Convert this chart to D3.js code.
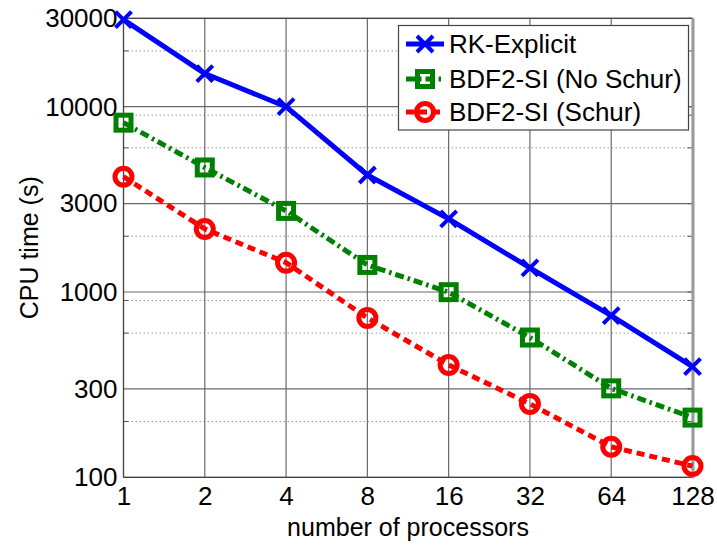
<!DOCTYPE html>
<html>
<head>
<meta charset="utf-8">
<script src="https://cdn.jsdelivr.net/npm/d3@7"></script>
<style>
  html, body { margin: 0; padding: 0; background: #fff; }
  svg { display: block; font-family: "Liberation Sans", Arial, Helvetica, sans-serif; }
</style>
</head>
<body>
<svg id="chart" width="717" height="545"></svg>
<script>
const processors = [1, 2, 4, 8, 16, 32, 64, 128];
const rkExplicit = [29500, 15100, 10000, 4280, 2480, 1350, 745, 396];
const bdfNoSchur = [8200, 4700, 2740, 1400, 998, 568, 302, 210];
const bdfSchur   = [4190, 2190, 1440, 725, 404, 249, 146, 115];
const seriesNames = ["RK-Explicit", "BDF2-SI (No Schur)", "BDF2-SI (Schur)"];
const yTicks = [100, 300, 1000, 3000, 10000, 30000];
const yMinor = [200, 600, 900, 2000, 6000, 9000, 20000];
const xTitle = "number of processors";
const yTitle = "CPU time (s)";

const svg = d3.select("#chart");
const pL = 123.5, pR = 692.5, pT = 18.3, pB = 477.3;

const x = d3.scaleLog().base(2).domain([1, 128]).range([pL, pR]);
const y = d3.scaleLog().base(10).domain([100, 30000]).range([pB, pT]);

// minor grid (dotted)
svg.append("g").selectAll("line").data(yMinor).join("line")
  .attr("x1", pL).attr("x2", pR)
  .attr("y1", d => y(d)).attr("y2", d => y(d))
  .attr("stroke", "#9a9a9a").attr("stroke-width", 1).attr("stroke-dasharray", "1.5,2.5");

// major grid
svg.append("g").selectAll("line").data(yTicks).join("line")
  .attr("x1", pL).attr("x2", pR)
  .attr("y1", d => y(d)).attr("y2", d => y(d))
  .attr("stroke", "#6a6a6a").attr("stroke-width", 1.2);
svg.append("g").selectAll("line").data(processors).join("line")
  .attr("x1", d => x(d)).attr("x2", d => x(d))
  .attr("y1", pT).attr("y2", pB)
  .attr("stroke", "#6a6a6a").attr("stroke-width", 1.2);

// minor tick marks on left/right
svg.append("g").selectAll("line").data(yMinor).join("line")
  .attr("x1", pL).attr("x2", pL + 5)
  .attr("y1", d => y(d)).attr("y2", d => y(d))
  .attr("stroke", "#555").attr("stroke-width", 1);
svg.append("g").selectAll("line").data(yMinor.concat(yTicks)).join("line")
  .attr("x1", pR - 5).attr("x2", pR)
  .attr("y1", d => y(d)).attr("y2", d => y(d))
  .attr("stroke", "#555").attr("stroke-width", 1);

// box
svg.append("line").attr("x1", pL).attr("x2", pR).attr("y1", pT).attr("y2", pT)
  .attr("stroke", "#444").attr("stroke-width", 1.2);
svg.append("line").attr("x1", pL).attr("x2", pR).attr("y1", pB).attr("y2", pB)
  .attr("stroke", "#444").attr("stroke-width", 1.2);
svg.append("line").attr("x1", pL).attr("x2", pL).attr("y1", pT).attr("y2", pB)
  .attr("stroke", "#444").attr("stroke-width", 1.2);
svg.append("line").attr("x1", pR + 0.5).attr("x2", pR + 0.5).attr("y1", pT).attr("y2", pB + 1)
  .attr("stroke", "#9a9a9a").attr("stroke-width", 3);

// axes labels via d3 axes
const yAxis = d3.axisLeft(y).tickValues(yTicks).tickFormat(d3.format("d")).tickSize(0).tickPadding(6);
const gy = svg.append("g").attr("transform", `translate(${pL},0)`).call(yAxis);
gy.select(".domain").remove();
gy.selectAll("text").attr("font-size", 26).attr("fill", "#000")
  .attr("font-family", "Liberation Sans, Arial, sans-serif");

const xAxis = d3.axisBottom(x).tickValues(processors).tickFormat(d3.format("d")).tickSize(0).tickPadding(9);
const gx = svg.append("g").attr("transform", `translate(0,${pB})`).call(xAxis);
gx.select(".domain").remove();
gx.selectAll("text").attr("font-size", 26).attr("fill", "#000")
  .attr("font-family", "Liberation Sans, Arial, sans-serif");

// titles
svg.append("text").attr("x", (pL + pR) / 2).attr("y", 536)
  .attr("text-anchor", "middle").attr("font-size", 25).text(xTitle);
svg.append("text").attr("transform", `translate(38,${(pT + pB) / 2}) rotate(-90)`)
  .attr("text-anchor", "middle").attr("font-size", 25).text(yTitle);

// series
const line = d3.line().x((d, i) => x(processors[i])).y(d => y(d));
const styles = [
  { data: rkExplicit, color: "#0000ff", dash: null, marker: "x" },
  { data: bdfNoSchur, color: "#008000", dash: "9,4,2.5,4", marker: "square" },
  { data: bdfSchur, color: "#ff0000", dash: "8,5", marker: "circle" }
];

function drawMarker(g, type, cx, cy, color) {
  if (type === "x") {
    const s = 8;
    g.append("path").attr("d", `M${cx - s},${cy - s}L${cx + s},${cy + s}M${cx - s},${cy + s}L${cx + s},${cy - s}`)
      .attr("stroke", color).attr("stroke-width", 4).attr("fill", "none");
  } else if (type === "square") {
    const s = 7.5;
    g.append("rect").attr("x", cx - s).attr("y", cy - s).attr("width", 2 * s).attr("height", 2 * s)
      .attr("stroke", color).attr("stroke-width", 5).attr("fill", "none");
  } else {
    g.append("circle").attr("cx", cx).attr("cy", cy).attr("r", 8.5)
      .attr("stroke", color).attr("stroke-width", 5).attr("fill", "none");
  }
}

styles.slice().reverse().forEach(s => {
  svg.append("path").datum(s.data).attr("d", line)
    .attr("fill", "none").attr("stroke", s.color).attr("stroke-width", 5)
    .attr("stroke-dasharray", s.dash).attr("stroke-linejoin", "round");
  const g = svg.append("g");
  s.data.forEach((v, i) => drawMarker(g, s.marker, x(processors[i]), y(v), s.color));
});

// legend
const lg = svg.append("g");
lg.append("rect").attr("x", 398.5).attr("y", 25.5).attr("width", 290).attr("height", 104.5)
  .attr("fill", "#fff").attr("stroke", "#444").attr("stroke-width", 1.2);
const rowsY = [44, 79, 112];
styles.forEach((s, i) => {
  const yy = rowsY[i];
  lg.append("line").attr("x1", 406).attr("x2", 444).attr("y1", yy).attr("y2", yy)
    .attr("stroke", s.color).attr("stroke-width", 5).attr("stroke-dasharray", s.dash);
  drawMarker(lg, s.marker, 425, yy, s.color);
  lg.append("text").attr("x", 449).attr("y", yy + 9).attr("font-size", 26).text(seriesNames[i]);
});
</script>
</body>
</html>
